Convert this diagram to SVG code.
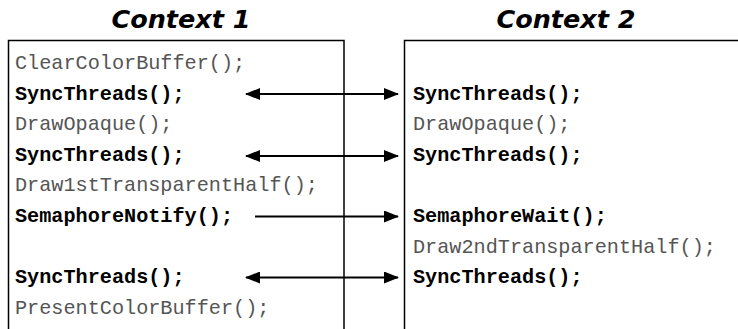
<svg xmlns="http://www.w3.org/2000/svg" width="738" height="329" viewBox="0 0 738 329">
<defs>
<style>
.title{font-family:"DejaVu Sans",Verdana,sans-serif;font-weight:bold;font-style:italic;font-size:25.5px;fill:#000;text-anchor:middle}
.code{font-family:"Liberation Mono","Courier New",monospace;font-size:20.2px;fill:#555}
.sync{font-family:"Liberation Mono","Courier New",monospace;font-size:20.2px;font-weight:bold;fill:#000}
.box{fill:none;stroke:#000;stroke-width:1.5}
.conn{stroke:#000;stroke-width:2.2;fill:none}
</style>
<marker id="ah" viewBox="0 0 15 12" refX="14" refY="6" markerWidth="15" markerHeight="12" markerUnits="userSpaceOnUse" orient="auto-start-reverse">
<path d="M0,0 L15,6 L0,12 Z" fill="#000"/>
</marker>
</defs>
<rect width="738" height="329" fill="#fff"/>
<g id="context1">
<text class="title" x="181" y="28">Context 1</text>
<path class="box" d="M8.5,330 V40.5 H344 V330"/>
<text class="code" x="15" y="69">ClearColorBuffer();</text>
<text class="sync" x="15" y="99.6">SyncThreads();</text>
<text class="code" x="15" y="130.2">DrawOpaque();</text>
<text class="sync" x="15" y="160.8">SyncThreads();</text>
<text class="code" x="15" y="191.4">Draw1stTransparentHalf();</text>
<text class="sync" x="15" y="222">SemaphoreNotify();</text>
<text class="sync" x="15" y="283.2">SyncThreads();</text>
<text class="code" x="15" y="313.8">PresentColorBuffer();</text>
</g>
<g id="context2">
<text class="title" x="566" y="28">Context 2</text>
<path class="box" d="M404.5,330 V40.5 H740"/>
<text class="sync" x="413" y="99.6">SyncThreads();</text>
<text class="code" x="413" y="130.2">DrawOpaque();</text>
<text class="sync" x="413" y="160.8">SyncThreads();</text>
<text class="sync" x="413" y="222">SemaphoreWait();</text>
<text class="code" x="413" y="252.6">Draw2ndTransparentHalf();</text>
<text class="sync" x="413" y="283.2">SyncThreads();</text>
</g>
<g id="connectors">
<line class="conn" x1="246" y1="94" x2="398" y2="94" marker-start="url(#ah)" marker-end="url(#ah)"/>
<line class="conn" x1="246" y1="156" x2="398" y2="156" marker-start="url(#ah)" marker-end="url(#ah)"/>
<line class="conn" x1="255" y1="216.5" x2="398" y2="216.5" marker-end="url(#ah)"/>
<line class="conn" x1="246" y1="277.5" x2="398" y2="277.5" marker-start="url(#ah)" marker-end="url(#ah)"/>
</g>
</svg>
